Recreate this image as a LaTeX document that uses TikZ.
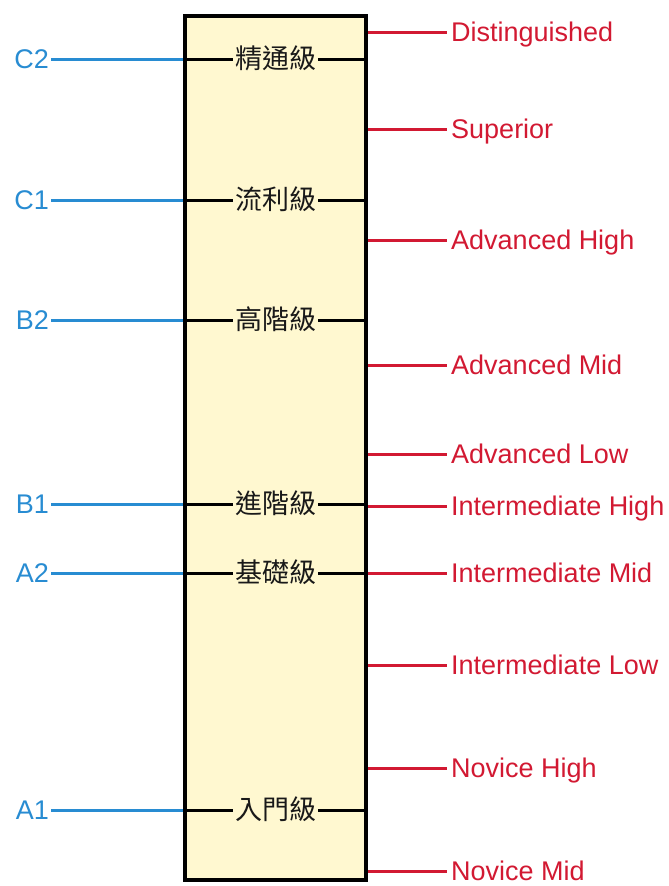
\documentclass[tikz,border=0pt]{standalone}
\usepackage{fontspec}
\setmainfont{Liberation Sans}
\newfontfamily\cjk{Noto Sans CJK TC}
\usetikzlibrary{positioning}

\definecolor{cefrblue}{RGB}{40,140,210}
\definecolor{actflred}{RGB}{210,25,50}
\definecolor{panelfill}{RGB}{255,248,208}

\tikzset{
  panel/.style={draw, line width=3.6pt, fill=panelfill, minimum width=181pt, minimum height=864pt, inner sep=0pt},
  cefr/.style={text=cefrblue, font=\fontsize{27}{27}\selectfont, anchor=east, inner xsep=2pt, inner ysep=0pt, text height=19pt, text depth=0pt},
  actfl/.style={text=actflred, font=\fontsize{27}{27}\selectfont, anchor=west, inner xsep=4pt, inner ysep=0pt, text height=19pt, text depth=0pt},
  level/.style={text=black!90, font=\cjk\fontsize{27}{27}\selectfont, inner xsep=2pt, inner ysep=0pt, text height=21pt, text depth=2pt},
  link/.style={line width=3pt},
}

\begin{document}
\begin{tikzpicture}[x=1pt, y=-1pt]
  \useasboundingbox (0,0) rectangle (669,886);

  \node[panel] (panel) at (275.5,448) {};

  % CJK levels with their CEFR names on the left
  \foreach \name/\lvl/\y in {C2/精通級/59, C1/流利級/200, B2/高階級/320, B1/進階級/504, A2/基礎級/573, A1/入門級/810}
  {
    \node[level] (lvl-\name) at (275.5,\y) {\lvl};
    \node[cefr] (cefr-\name) at (51,\y) {\name};
    \draw[link, cefrblue] (cefr-\name) -- (cefr-\name -| panel.west);
    \draw[link] (lvl-\name -| panel.west) -- (lvl-\name);
    \draw[link] (lvl-\name) -- (lvl-\name -| panel.east);
  }

  % ACTFL levels on the right
  \foreach \y/\txt [count=\i] in {32/Distinguished, 129/Superior, 240/Advanced High, 365/Advanced Mid, 454/Advanced Low, 506/Intermediate High, 573/Intermediate Mid, 665/Intermediate Low, 768/Novice High, 871/Novice Mid}
  {
    \node[actfl] (actfl-\i) at (447,\y) {\txt};
    \draw[link, actflred] (actfl-\i -| panel.east) -- (actfl-\i);
  }
\end{tikzpicture}
\end{document}
